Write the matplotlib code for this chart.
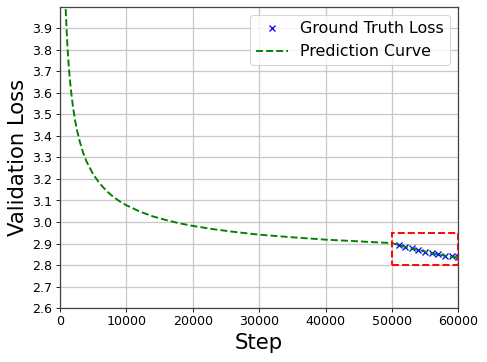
# Validation loss: predicted curve vs. ground truth near the end of training

import matplotlib
matplotlib.use("Agg")
import matplotlib.pyplot as plt
from matplotlib.patches import Rectangle

# prediction curve
pred_steps = [800, 900, 1000, 1100, 1250, 1400, 1600, 1800, 2000, 2300, 2600,
              3000, 3500, 4000, 5000, 6000, 7000, 8000, 9000, 10000, 12000,
              14000, 16000, 18000, 20000, 23000, 26000, 30000, 35000, 40000,
              45000, 50000, 51000, 52000, 53000, 54000, 55000, 56000, 57000,
              58000, 59000, 60000]
pred_loss = [4.053, 3.968, 3.898, 3.838, 3.761, 3.699, 3.632, 3.576, 3.528,
             3.470, 3.423, 3.373, 3.322, 3.282, 3.222, 3.179, 3.145, 3.118,
             3.096, 3.078, 3.049, 3.026, 3.009, 2.994, 2.982, 2.967, 2.955,
             2.941, 2.929, 2.918, 2.910, 2.902, 2.893, 2.885, 2.878, 2.870,
             2.862, 2.855, 2.849, 2.843, 2.839, 2.835]

# ground truth points
gt_steps = [51000, 52000, 53000, 54000, 55000, 56000, 57000, 58000, 59000, 60000]
gt_loss = [2.892, 2.886, 2.877, 2.870, 2.861, 2.856, 2.850, 2.844, 2.840, 2.836]

y_ticks = [2.6, 2.7, 2.8, 2.9, 3.0, 3.1, 3.2, 3.3, 3.4, 3.5, 3.6, 3.7, 3.8, 3.9]

fig = plt.figure(figsize=(6.4, 4.757), dpi=76.1)
ax = fig.add_axes([0.123, 0.149, 0.818, 0.832])

ax.plot(gt_steps, gt_loss, 'bx', markersize=5, markeredgewidth=1.2,
        label="Ground Truth Loss")
ax.plot(pred_steps, pred_loss, 'g--', linewidth=1.8, label="Prediction Curve")

# highlight the zoomed region
ax.add_patch(Rectangle((50000, 2.8), 10000, 0.15, fill=False, zorder=3,
                       edgecolor='red', linestyle='--', linewidth=1.8))

ax.set_xlim(0, 60000)
ax.set_ylim(2.6, 4.0)
ax.set_yticks(y_ticks)
ax.set_xticks([0, 10000, 20000, 30000, 40000, 50000, 60000])
ax.tick_params(labelsize=12)
ax.set_xlabel("Step", fontsize=20)
ax.set_ylabel("Validation Loss", fontsize=20)
ax.grid(True, color='#c8c8c8', linewidth=1.2)
for s in ax.spines.values():
    s.set_color('#444444')
    s.set_linewidth(1.2)
ax.legend(loc='upper right', fontsize=15)

fig.savefig("out.png", dpi=76.1)
